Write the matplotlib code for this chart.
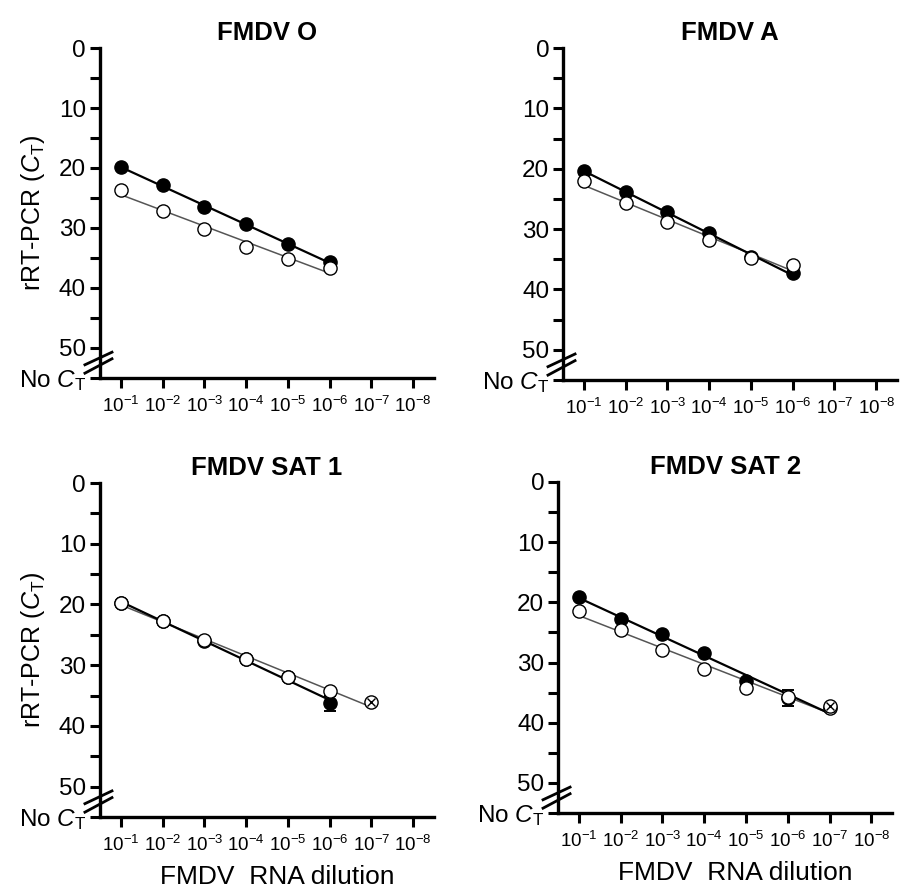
import numpy as np
import matplotlib
matplotlib.use("Agg")
import matplotlib.pyplot as plt
import matplotlib.transforms as mtrans

plt.rcParams['font.family'] = ['Liberation Sans', 'DejaVu Sans']
plt.rcParams['mathtext.fontset'] = 'custom'
plt.rcParams['mathtext.rm'] = 'Liberation Sans'
plt.rcParams['mathtext.it'] = 'Liberation Sans:italic'

# dilution index: 1 -> 10^-1 ... 8 -> 10^-8
dilutions = [1, 2, 3, 4, 5, 6, 7, 8]
tick_labels = [r'$10^{-%d}$' % d for d in dilutions]

titles = ['FMDV O', 'FMDV A', 'FMDV SAT 1', 'FMDV SAT 2']

# filled circles
filled_x = [[1, 2, 3, 4, 5, 6], [1, 2, 3, 4, 5, 6], [1, 2, 3, 4, 5, 6], [1, 2, 3, 4, 5, 6, 7]]
filled_ct = [[19.8, 22.9, 26.5, 29.4, 32.7, 35.7],
             [20.3, 23.9, 27.2, 30.7, 34.7, 37.3],
             [19.8, 22.7, 26.0, 29.0, 32.0, 36.3],
             [19.1, 22.7, 25.3, 28.5, 33.0, 35.9, 37.6]]
filled_err = [[0, 0, 0, 0, 0, 0],
              [0, 0, 0, 0, 0, 0],
              [0, 0, 0, 0, 0, 1.3],
              [0, 0, 0, 0, 0, 1.3, 0]]
filled_crossed = [[], [], [], [7]]

# open circles
open_x = [[1, 2, 3, 4, 5, 6], [1, 2, 3, 4, 5, 6], [1, 2, 3, 4, 5, 6, 7], [1, 2, 3, 4, 5, 6, 7]]
open_ct = [[23.7, 27.2, 30.1, 33.2, 35.2, 36.6],
           [22.1, 25.7, 28.8, 31.8, 34.8, 35.9],
           [19.7, 22.7, 25.8, 28.9, 31.9, 34.3, 36.1],
           [21.5, 24.6, 27.9, 31.0, 34.3, 35.7, 37.2]]
open_crossed = [[], [], [7], [7]]

# axes rectangles (left, bottom, width, height) in figure fraction
rects = [[0.1107, 0.5772, 0.370, 0.3691],
         [0.6235, 0.5750, 0.370, 0.3713],
         [0.1107, 0.0861, 0.370, 0.3736],
         [0.6180, 0.0906, 0.370, 0.3703]]

fig = plt.figure(figsize=(9.03, 8.94), dpi=100)

for i in range(4):
    ax = fig.add_axes(rects[i])
    fx = np.array(filled_x[i]); fy = np.array(filled_ct[i])
    ox = np.array(open_x[i]); oy = np.array(open_ct[i])

    # regression lines
    p = np.polyfit(ox, oy, 1)
    ax.plot([ox[0], ox[-1]], np.polyval(p, [ox[0], ox[-1]]), color='#555555', lw=1.1, zorder=2)
    p = np.polyfit(fx, fy, 1)
    ax.plot([fx[0], fx[-1]], np.polyval(p, [fx[0], fx[-1]]), color='black', lw=1.6, zorder=2)

    # filled points
    ax.errorbar(fx, fy, yerr=filled_err[i], fmt='none', ecolor='black', elinewidth=1.2,
                capsize=4, capthick=1.4, zorder=3)
    fm = np.isin(fx, filled_crossed[i])
    ax.plot(fx[~fm], fy[~fm], 'o', ms=9.5, mfc='black', mec='black', zorder=4)
    ax.plot(fx[fm], fy[fm], 'o', ms=9.5, mfc='white', mec='black', mew=1.0, zorder=4)
    ax.plot(fx[fm], fy[fm], 'x', ms=6, mec='black', mew=1.0, zorder=5)

    # open points
    om = np.isin(ox, open_crossed[i])
    ax.plot(ox[~om], oy[~om], 'o', ms=9.5, mfc='white', mec='black', mew=1.0, zorder=6)
    ax.plot(ox[om], oy[om], 'o', ms=9.5, mfc='white', mec='black', mew=1.0, zorder=6)
    ax.plot(ox[om], oy[om], 'x', ms=6, mec='black', mew=1.0, zorder=7)

    ax.set_xlim(0.5, 8.5)
    ax.set_ylim(55, 0)
    ax.set_xticks(dilutions)
    ax.set_xticklabels(tick_labels, fontsize=13.5)
    ax.set_yticks([0, 10, 20, 30, 40, 50, 55])
    ax.set_yticklabels(['0', '10', '20', '30', '40', '50', r'No $C_\mathrm{T}$'], fontsize=17.5)
    ax.set_yticks([5, 15, 25, 35, 45], minor=True)
    ax.tick_params(axis='both', which='both', direction='out', length=7, width=2.2, pad=3)
    ax.tick_params(axis='x', pad=6)
    for s in ['top', 'right']:
        ax.spines[s].set_visible(False)
    for s in ['left', 'bottom']:
        ax.spines[s].set_linewidth(2.4)
    ax.set_title(titles[i], fontsize=18.5, fontweight='bold', pad=6)

    # axis break marks
    tr = mtrans.blended_transform_factory(ax.transAxes, ax.transData)
    ax.plot([-0.045, 0.036], [52.8, 50.7], color='black', lw=2.0, transform=tr, clip_on=False)
    ax.plot([-0.045, 0.036], [54.2, 51.8], color='black', lw=2.0, transform=tr, clip_on=False)

    if i % 2 == 0:
        ax.set_ylabel(r'rRT-PCR ($C_\mathrm{T}$)', fontsize=18)
        ax.yaxis.set_label_coords(-0.16, 0.5)
    if i >= 2:
        ax.set_xlabel('FMDV  RNA dilution', fontsize=19)
        ax.xaxis.set_label_coords(0.53, -0.145)

fig.savefig('out.png', dpi=100)
